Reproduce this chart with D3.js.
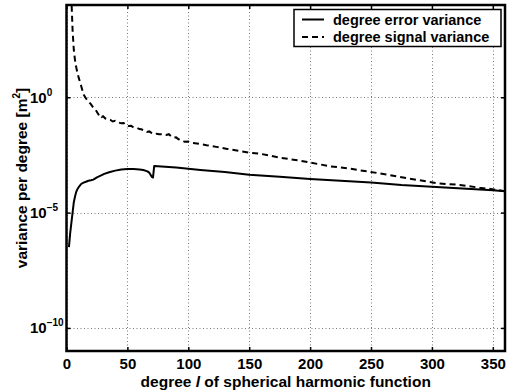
<!DOCTYPE html>
<html>
<head>
<meta charset="utf-8">
<script src="https://cdn.jsdelivr.net/npm/d3@7"></script>
<style>
  html, body { margin: 0; padding: 0; background: #fff; }
  svg { display: block; font-family: "Liberation Sans", Arial, Helvetica, sans-serif; font-weight: bold; }
</style>
</head>
<body>
<svg id="chart" width="507" height="392"></svg>
<script>
// ---- data (log10 of variance per degree, m^2) ----
const signalDegrees = [2,3,4,5,6,7,8,9,10,12,14,16,18,20,22,24,26,27,28,29,30,32,34,36,38,40,42,45,47,49,51,53,55,58,60,62,64,66,68,70,72,74,76,79,82,84,86,88,90,92,95,97,100,103,107,115,123,132,142,150,159,167,175,183,192,201,208,216,224,232,240,249,257,265,273,281,290,298,306,315,323,331,339,347,355,360];
const signalLog10 = [7.0,5.6,4.3,2.9,2.05,1.6,1.3,1.05,0.85,0.5,0.12,-0.05,-0.18,-0.3,-0.45,-0.55,-0.72,-0.82,-0.78,-0.85,-0.82,-0.92,-0.95,-0.98,-1.05,-1.02,-1.08,-1.13,-1.12,-1.22,-1.25,-1.24,-1.3,-1.33,-1.38,-1.4,-1.45,-1.5,-1.48,-1.55,-1.6,-1.58,-1.6,-1.6,-1.63,-1.6,-1.7,-1.75,-1.74,-1.82,-1.88,-1.93,-1.92,-1.98,-2.0,-2.08,-2.15,-2.24,-2.33,-2.4,-2.45,-2.53,-2.62,-2.68,-2.75,-2.84,-2.91,-2.99,-3.04,-3.09,-3.16,-3.23,-3.3,-3.37,-3.45,-3.52,-3.6,-3.67,-3.74,-3.77,-3.8,-3.86,-3.92,-3.97,-4.03,-4.08];

const errorDegrees = [2,3,4,5,6,7,8,9,10,12,14,16,18,20,22,25,28,31,35,40,45,50,55,60,63,66,68,70,71,72,90,110,130,150,175,200,225,250,275,300,325,350,360];
const errorLog10 = [-6.5,-5.9,-5.45,-5.0,-4.55,-4.3,-4.1,-3.98,-3.9,-3.76,-3.7,-3.66,-3.62,-3.6,-3.57,-3.47,-3.4,-3.32,-3.25,-3.18,-3.13,-3.11,-3.11,-3.13,-3.15,-3.2,-3.27,-3.45,-3.48,-2.98,-3.05,-3.15,-3.24,-3.36,-3.45,-3.54,-3.62,-3.69,-3.8,-3.88,-3.96,-4.03,-4.08];

const xTicks = [0,50,100,150,200,250,300,350];
const yTickExps = [-10,-5,0];
const seriesNames = ["degree error variance", "degree signal variance"];

// ---- layout ----
const svg = d3.select("#chart");
const L = 66.5, R = 505, T = 5, B = 351;
const x = d3.scaleLinear().domain([0, 360]).range([L, R]);
const y = d3.scaleLog().domain([1e-11, 1e4]).range([B, T]);

svg.append("defs").append("clipPath").attr("id", "clip")
  .append("rect").attr("x", L).attr("y", T).attr("width", R - L).attr("height", B - T);

// grid
const grid = svg.append("g").attr("stroke", "#777").attr("stroke-width", 1).attr("stroke-dasharray", "1,2.5");
grid.selectAll(".gx").data(xTicks).join("line")
  .attr("x1", d => Math.round(x(d)) + 0.5).attr("x2", d => Math.round(x(d)) + 0.5)
  .attr("y1", T).attr("y2", B);
grid.selectAll(".gy").data(yTickExps).join("line")
  .attr("y1", d => Math.round(y(Math.pow(10, d))) + 0.5).attr("y2", d => Math.round(y(Math.pow(10, d))) + 0.5)
  .attr("x1", L).attr("x2", R);

// lines
const sigData = signalDegrees.map((d, i) => [d, Math.pow(10, signalLog10[i])]);
const errData = errorDegrees.map((d, i) => [d, Math.pow(10, errorLog10[i])]);
const line = d3.line().x(d => x(d[0])).y(d => y(d[1]));
const plot = svg.append("g").attr("clip-path", "url(#clip)");
plot.append("path").datum(errData).attr("d", line)
  .attr("fill", "none").attr("stroke", "#000").attr("stroke-width", 2).attr("stroke-linejoin", "round");
plot.append("path").datum(sigData).attr("d", line)
  .attr("fill", "none").attr("stroke", "#000").attr("stroke-width", 2).attr("stroke-dasharray", "6,4");

// axes
const fs = 15;
const xAxis = d3.axisBottom(x).tickValues(xTicks).tickSizeInner(-4).tickSizeOuter(0).tickPadding(7);
const gx = svg.append("g").attr("transform", `translate(0,${B})`).call(xAxis);
gx.select(".domain").remove();
gx.selectAll("line").attr("stroke", "#000").attr("stroke-width", 1.5);
gx.selectAll("text").attr("font-size", fs).attr("font-family", "Liberation Sans, Arial, sans-serif").attr("font-weight", "bold").attr("fill", "#000");

const xAxisTop = d3.axisTop(x).tickValues(xTicks).tickSizeInner(-4).tickSizeOuter(0).tickFormat("");
const gxt = svg.append("g").attr("transform", `translate(0,${T})`).call(xAxisTop);
gxt.select(".domain").remove();
gxt.selectAll("line").attr("stroke", "#000").attr("stroke-width", 1.5);

const yVals = yTickExps.map(e => Math.pow(10, e));
const yAxisL = d3.axisLeft(y).tickValues(yVals).tickSizeInner(-4).tickSizeOuter(0).tickFormat("");
const gyl = svg.append("g").attr("transform", `translate(${L},0)`).call(yAxisL);
gyl.select(".domain").remove();
gyl.selectAll("line").attr("stroke", "#000").attr("stroke-width", 1.5);
const yAxisR = d3.axisRight(y).tickValues(yVals).tickSizeInner(-4).tickSizeOuter(0).tickFormat("");
const gyr = svg.append("g").attr("transform", `translate(${R},0)`).call(yAxisR);
gyr.select(".domain").remove();
gyr.selectAll("line").attr("stroke", "#000").attr("stroke-width", 1.5);

// y tick labels 10^e
const yl = svg.append("g");
yTickExps.forEach(e => {
  const t = yl.append("text").attr("x", 30).attr("y", y(Math.pow(10, e)) + 5.5)
    .attr("font-size", fs).attr("fill", "#000");
  t.append("tspan").text("10");
  t.append("tspan").attr("font-size", 10).attr("dy", -7).text(e < 0 ? "\u2212" + Math.abs(e) : String(e));
});

// box
svg.append("rect").attr("x", L).attr("y", T).attr("width", R - L).attr("height", B - T)
  .attr("fill", "none").attr("stroke", "#000").attr("stroke-width", 2.5);

// axis labels
const xl = svg.append("text").attr("x", (L + R) / 2).attr("y", 386.5).attr("text-anchor", "middle")
  .attr("font-size", 15.5).attr("fill", "#000");
xl.append("tspan").text("degree ");
xl.append("tspan").attr("font-style", "italic").text("l");
xl.append("tspan").text(" of spherical harmonic function");

const ylab = svg.append("text").attr("transform", `translate(27,${(T + B) / 2}) rotate(-90)`)
  .attr("text-anchor", "middle").attr("font-size", 15.5).attr("fill", "#000");
ylab.append("tspan").text("variance per degree [m");
ylab.append("tspan").attr("font-size", 10).attr("dy", -7).text("2");
ylab.append("tspan").attr("dy", 7).text("]");

// legend
const lfs = 14.5;
const lg = svg.append("g");
lg.append("rect").attr("x", 294).attr("y", 9.5).attr("width", 207).attr("height", 37)
  .attr("fill", "#fff").attr("stroke", "#000").attr("stroke-width", 1.5);
const rows = [{name: seriesNames[0], dash: null, yy: 19.5}, {name: seriesNames[1], dash: "6,4", yy: 37}];
rows.forEach(r => {
  lg.append("line").attr("x1", 302).attr("x2", 324).attr("y1", r.yy).attr("y2", r.yy)
    .attr("stroke", "#000").attr("stroke-width", 2).attr("stroke-dasharray", r.dash);
  lg.append("text").attr("x", 333).attr("y", r.yy + 5).attr("font-size", lfs).attr("fill", "#000").text(r.name);
});
</script>
</body>
</html>
